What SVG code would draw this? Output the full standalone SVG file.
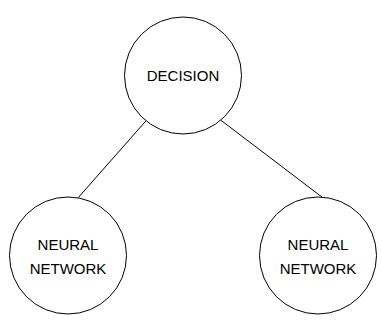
<svg xmlns="http://www.w3.org/2000/svg" width="382" height="323" viewBox="0 0 382 323">
<style>
.node{fill:#ffffff;stroke:#000000;stroke-width:1}
.lbl{font-family:"Liberation Sans",Arial,sans-serif;font-size:15px;fill:#000000;text-anchor:middle}
.edge{stroke:#000000;stroke-width:1;fill:none}
</style>
<rect width="382" height="323" fill="#ffffff"/>
<g id="connectors">
<path class="edge" d="M146,120.8 L78,197.9"/>
<path class="edge" d="M221,120.3 L322,197.1"/>
</g>
<g id="decision">
<circle class="node" cx="183" cy="75.5" r="58.5"/>
<text class="lbl" x="183" y="81">DECISION</text>
</g>
<g id="nn-left">
<circle class="node" cx="68" cy="255.5" r="58.5"/>
<text class="lbl" x="68" y="250">NEURAL</text>
<text class="lbl" x="68" y="274">NETWORK</text>
</g>
<g id="nn-right">
<circle class="node" cx="318" cy="255.5" r="58.5"/>
<text class="lbl" x="318" y="250">NEURAL</text>
<text class="lbl" x="318" y="274">NETWORK</text>
</g>
</svg>
